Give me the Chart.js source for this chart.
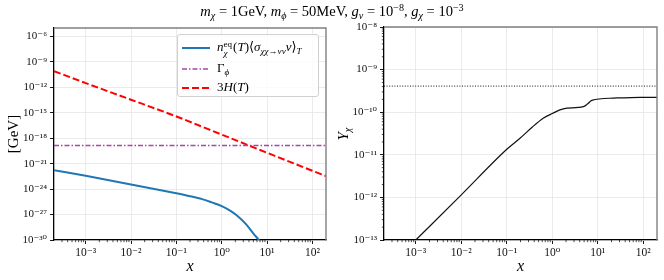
<!DOCTYPE html>
<html>
<head>
<meta charset="utf-8">
<script src="https://cdn.jsdelivr.net/npm/chart.js@4.4.0/dist/chart.umd.min.js"></script>
<style>
  body { margin: 0; width: 664px; height: 280px; position: relative; background: #fff; overflow: hidden;
         font-family: "Liberation Serif", "DejaVu Serif", serif; color: #000; }
  canvas { position: absolute; top: 0; }
  #left { left: 0; }
  #right { left: 332px; }
  sub, sup { font-size: 70%; line-height: 0; }
  sub { vertical-align: -0.3em; }
  sup { vertical-align: 0.45em; }
  .title { position: absolute; top: 3px; left: 0; width: 664px; text-align: center; font-size: 14.5px; }
  .ylab { position: absolute; left: 343px; top: 134px; font-size: 15px; font-style: italic;
          transform: translate(-50%, -50%) rotate(-90deg); white-space: nowrap; }
  .legend { position: absolute; left: 177px; top: 34px; width: 142px; height: 63px; box-sizing: border-box;
            border: 1px solid #d0d0d0; border-radius: 3px; background: rgba(255,255,255,0.8); font-size: 13px; }
  .row { position: absolute; left: 0; height: 16px; width: 100%; }
  .row svg { position: absolute; left: 3px; top: 3px; }
  .row span.t { position: absolute; left: 39px; top: -1px; white-space: nowrap; }
  .ss { display: inline-flex; flex-direction: column; font-size: 70%; line-height: 0.95; vertical-align: 0.42em; margin-right: 1px; }
</style>
</head>
<body>
<canvas id="left" width="332" height="280"></canvas>
<canvas id="right" width="332" height="280"></canvas>

<div class="title"><i>m</i><sub><i>χ</i></sub> = 1GeV, <i>m</i><sub><i>ϕ</i></sub> = 50MeV, <i>g</i><sub><i>ν</i></sub> = 10<sup>−8</sup>, <i>g</i><sub><i>χ</i></sub> = 10<sup>−3</sup></div>
<div class="ylab">Y<sub>χ</sub></div>

<div class="legend">
  <div class="row" style="top:5px">
    <svg width="30" height="10"><line x1="1" y1="5" x2="29" y2="5" stroke="#1f77b4" stroke-width="2"/></svg>
    <span class="t"><i>n</i><span class="ss"><span>eq</span><span><i>χ</i></span></span>(<i>T</i>)⟨<i>σ</i><sub><i>χχ</i>→<i>νν</i></sub><i>v</i>⟩<sub><i>T</i></sub></span>
  </div>
  <div class="row" style="top:26px">
    <svg width="30" height="10"><line x1="1" y1="5" x2="29" y2="5" stroke="#a845a8" stroke-width="1.3" stroke-dasharray="5 2 1.5 2"/></svg>
    <span class="t">Γ<sub><i>ϕ</i></sub></span>
  </div>
  <div class="row" style="top:45px">
    <svg width="30" height="10"><line x1="1" y1="5" x2="29" y2="5" stroke="#ff0000" stroke-width="2" stroke-dasharray="7 3"/></svg>
    <span class="t">3<i>H</i>(<i>T</i>)</span>
  </div>
</div>

<script>
// x = m_chi / T, shared by both panels
const xMin = 2e-4, xMax = 200;
const xMajor = [1e-3, 1e-2, 1e-1, 1, 10, 100];
const xMajorLabels = ["10⁻³", "10⁻²", "10⁻¹", "10⁰", "10¹", "10²"];
const minorSubs = [2, 3, 4, 5, 6, 7, 8, 9];
const xDecades = [1e-4, 1e-3, 1e-2, 1e-1, 1, 10, 100];

// left panel: rates in GeV
const leftYMajor = [1e-30, 1e-27, 1e-24, 1e-21, 1e-18, 1e-15, 1e-12, 1e-9, 1e-6];
const leftYLabels = ["10⁻³⁰", "10⁻²⁷", "10⁻²⁴", "10⁻²¹", "10⁻¹⁸", "10⁻¹⁵", "10⁻¹²", "10⁻⁹", "10⁻⁶"];

const annX = [2e-4, 1e-3, 1e-2, 0.1, 0.19, 0.37, 0.6, 1, 1.5, 2.04, 3.39, 5.13, 6.6, 8];
const annY = [1.74e-22, 3.7e-23, 3.6e-24, 3.2e-25, 1.55e-25, 6.6e-26, 2.75e-26, 1.0e-26, 3.2e-27, 1.0e-27, 7.9e-29, 5.0e-30, 1.0e-30, 2e-31];

const gammaX = [2e-4, 200];
const gammaY = [1.4e-19, 1.4e-19];

const hubbleX = [2e-4, 1e-3, 1e-2, 0.1, 1, 10, 100, 200];
const hubbleY = [8.3e-11, 3.2e-12, 3.5e-14, 3.7e-16, 2.7e-18, 1.95e-20, 1.45e-22, 3.4e-23];

// right panel: yield
const rightYMajor = [1e-13, 1e-12, 1e-11, 1e-10, 1e-9, 1e-8];
const rightYLabels = ["10⁻¹³", "10⁻¹²", "10⁻¹¹", "10⁻¹⁰", "10⁻⁹", "10⁻⁸"];
const rightYDecades = [1e-13, 1e-12, 1e-11, 1e-10, 1e-9];

const yieldX = [1e-3, 1e-2, 0.1, 0.195, 0.355, 0.63, 1, 1.74, 4.8, 5.9, 7.4, 22, 87, 200];
const yieldY = [1e-13, 1.15e-12, 1.35e-11, 2.45e-11, 4.37e-11, 7.2e-11, 9.3e-11, 1.2e-10, 1.35e-10, 1.55e-10, 1.9e-10, 2.14e-10, 2.24e-10, 2.24e-10];
const yieldObsX = [2e-4, 200];
const yieldObsY = [4.1e-10, 4.1e-10];

const FONT = "'Liberation Serif', 'DejaVu Serif', serif";

function pts(xs, ys) {
  return xs.map((x, i) => ({ x: x, y: ys[i] }));
}

function minorsOf(decades, lo, hi) {
  let out = [];
  decades.forEach((d) => minorSubs.forEach((s) => {
    const v = d * s;
    if (v > lo && v < hi) out.push(v);
  }));
  return out;
}

function setTicks(majors, minors) {
  return (scale) => {
    let t = majors.map((v) => ({ value: v, major: true }))
      .concat(minors.map((v) => ({ value: v, major: false })));
    t.sort((a, b) => a.value - b.value);
    scale.ticks = t;
  };
}

function labelFrom(majors, labels) {
  return (value) => {
    const i = majors.findIndex((m) => Math.abs(m / value - 1) < 1e-6);
    return i >= 0 ? labels[i] : "";
  };
}

const gridOpts = {
  color: (c) => (c.tick && c.tick.major ? "#e6e6e6" : "rgba(0,0,0,0)"),
  tickColor: (c) => (c.tick && c.tick.major ? "#000" : "rgba(0,0,0,0)"),
  lineWidth: 0.8,
  tickLength: 4,
  tickWidth: 0.9,
};

// top/right spines and short minor ticks
const framePlugin = {
  id: "frame",
  afterDraw(chart) {
    const { ctx, chartArea: a } = chart;
    ctx.save();
    ctx.strokeStyle = "#808080";
    ctx.lineWidth = 1.4;
    ctx.beginPath();
    ctx.moveTo(a.left, a.top);
    ctx.lineTo(a.right, a.top);
    ctx.lineTo(a.right, a.bottom + 0.6);
    ctx.stroke();
    ctx.strokeStyle = "#000";
    ctx.lineWidth = 0.7;
    const sx = chart.scales.x, sy = chart.scales.y;
    ctx.beginPath();
    sx.ticks.forEach((t) => {
      if (t.major) return;
      const p = sx.getPixelForValue(t.value);
      ctx.moveTo(p, a.bottom);
      ctx.lineTo(p, a.bottom + 2.2);
    });
    sy.ticks.forEach((t) => {
      if (t.major) return;
      const p = sy.getPixelForValue(t.value);
      ctx.moveTo(a.left, p);
      ctx.lineTo(a.left - 2.2, p);
    });
    ctx.stroke();
    ctx.restore();
  },
};

function xScale() {
  return {
    type: "logarithmic",
    min: xMin,
    max: xMax,
    afterBuildTicks: setTicks(xMajor, minorsOf(xDecades, xMin, xMax)),
    afterFit: (s) => { s.height = 40; },
    grid: gridOpts,
    border: { color: "#000", width: 1.3 },
    ticks: {
      autoSkip: false,
      maxRotation: 0,
      padding: 2,
      color: "#111",
      font: { family: FONT, size: 11.5 },
      callback: labelFrom(xMajor, xMajorLabels),
    },
    title: {
      display: true,
      text: "x",
      color: "#000",
      font: { family: FONT, size: 16, style: "italic" },
      padding: { top: 0, bottom: 4 },
    },
  };
}

function baseOptions(yScale, pad) {
  return {
    responsive: false,
    animation: false,
    events: [],
    layout: { padding: pad },
    plugins: { legend: { display: false }, tooltip: { enabled: false } },
    elements: { point: { radius: 0 } },
    scales: { x: xScale(), y: yScale },
  };
}

new Chart(document.getElementById("left"), {
  type: "line",
  data: {
    datasets: [
      {
        data: pts(annX, annY),
        borderColor: "#1f77b4",
        borderWidth: 2,
        cubicInterpolationMode: "monotone",
      },
      {
        data: pts(gammaX, gammaY),
        borderColor: "#a845a8",
        borderWidth: 1.3,
        borderDash: [5, 2, 1.5, 2],
      },
      {
        data: pts(hubbleX, hubbleY),
        borderColor: "#ff0000",
        borderWidth: 2,
        borderDash: [7, 3],
        cubicInterpolationMode: "monotone",
      },
    ],
  },
  options: baseOptions(
    {
      type: "logarithmic",
      min: 1e-30,
      max: 1e-5,
      afterBuildTicks: setTicks(leftYMajor, []),
      afterFit: (s) => { s.width = 54; },
      grid: gridOpts,
      border: { color: "#000", width: 1.3 },
      ticks: {
        autoSkip: false,
        padding: 3,
        color: "#111",
        font: { family: FONT, size: 11 },
        callback: labelFrom(leftYMajor, leftYLabels),
      },
      title: {
        display: true,
        text: "[GeV]",
        color: "#000",
        font: { family: FONT, size: 15 },
        padding: { top: 5, bottom: 0 },
      },
    },
    { top: 28, right: 6, left: 0, bottom: 0 }
  ),
  plugins: [framePlugin],
});

new Chart(document.getElementById("right"), {
  type: "line",
  data: {
    datasets: [
      {
        data: pts(yieldX, yieldY),
        borderColor: "#111",
        borderWidth: 1.2,
        cubicInterpolationMode: "monotone",
      },
      {
        data: pts(yieldObsX, yieldObsY),
        borderColor: "#111",
        borderWidth: 1,
        borderDash: [1, 1.6],
      },
    ],
  },
  options: baseOptions(
    {
      type: "logarithmic",
      min: 1e-13,
      max: 1e-8,
      afterBuildTicks: setTicks(rightYMajor, minorsOf(rightYDecades, 1e-13, 1e-8)),
      afterFit: (s) => { s.width = 52; },
      grid: gridOpts,
      border: { color: "#000", width: 1.3 },
      ticks: {
        autoSkip: false,
        padding: 3,
        color: "#111",
        font: { family: FONT, size: 11 },
        callback: labelFrom(rightYMajor, rightYLabels),
      },
    },
    { top: 27, right: 7, left: 0, bottom: 0 }
  ),
  plugins: [framePlugin],
});
</script>
</body>
</html>
